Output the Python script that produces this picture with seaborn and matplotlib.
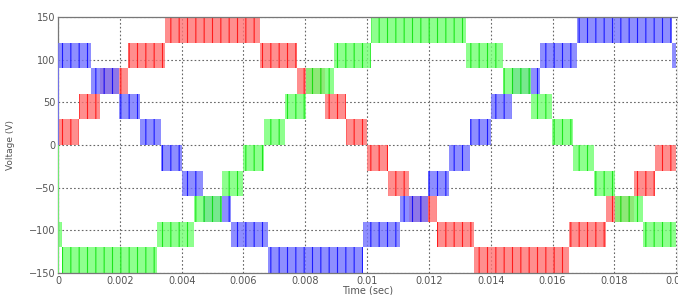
import matplotlib
matplotlib.use("Agg")
import matplotlib.pyplot as plt
import seaborn as sns
import pandas as pd

# Tiempos de cambio de nivel (s) y nivel inferior de cada banda (V)
red_edges = [0, 0.00068, 0.00136, 0.00227, 0.00346, 0.00654, 0.00773, 0.00864, 0.00932,
             0.01, 0.01068, 0.01136, 0.01227, 0.01346, 0.01654, 0.01773, 0.01864, 0.01932, 0.02]
red_lows = [0, 30, 60, 90, 120, 90, 60, 30, 0, -30, -60, -90, -120, -150, -120, -90, -60, -30]

blue_edges = [0, 0.00106, 0.00197, 0.00265, 0.00333, 0.00401, 0.00469, 0.00560, 0.00679, 0.00987,
              0.01106, 0.01197, 0.01265, 0.01333, 0.01401, 0.01469, 0.01560, 0.01679, 0.01987, 0.02]
blue_lows = [90, 60, 30, 0, -30, -60, -90, -120, -150, -120, -90, -60, -30, 0, 30, 60, 90, 120, 90]

green_edges = [0, 0.00013, 0.00321, 0.00440, 0.00531, 0.00599, 0.00667, 0.00735, 0.00803, 0.00894,
               0.01013, 0.01321, 0.01440, 0.01531, 0.01599, 0.01667, 0.01735, 0.01803, 0.01894, 0.02]
green_lows = [-120, -150, -120, -90, -60, -30, 0, 30, 60, 90, 120, 90, 60, 30, 0, -30, -60, -90, -120]

step = 30  # altura de cada banda
start_values = {"red": 0, "blue": 120, "green": -150}

x_ticks = [0, 0.002, 0.004, 0.006, 0.008, 0.01, 0.012, 0.014, 0.016, 0.018, 0.02]
x_labels = ["0", "0.002", "0.004", "0.006", "0.008", "0.01", "0.012", "0.014", "0.016", "0.018", "0.02"]
y_ticks = [-150, -100, -50, 0, 50, 100, 150]

rows = []
for phase, edges, lows in [("red", red_edges, red_lows),
                           ("blue", blue_edges, blue_lows),
                           ("green", green_edges, green_lows)]:
    for i, low in enumerate(lows):
        rows.append({"fase": phase, "t0": edges[i], "t1": edges[i + 1], "low": low})
df = pd.DataFrame(rows)

sns.set_theme(style="white")
plt.rcParams["font.family"] = ["DejaVu Sans"]
plt.rcParams["hatch.linewidth"] = 0.8

colors = {"red": ("#ff7272", "#ff0000"),
          "blue": ("#7272ff", "#0000ff"),
          "green": ("#72ff72", "#00e000")}

fig = plt.figure(figsize=(6.78, 2.95), dpi=100)
ax = fig.add_axes([58 / 678, 1 - 273 / 295, 620 / 678, (273 - 17) / 295])

for phase in ["red", "blue", "green"]:
    d = df[df["fase"] == phase]
    light, dark = colors[phase]
    ax.bar(d["t0"], step, width=d["t1"] - d["t0"], bottom=d["low"], align="edge",
           color=light, alpha=0.8, edgecolor=dark, linewidth=0, hatch="||", zorder=2)
    ax.vlines(0, 0, start_values[phase], color=light, lw=1.2, zorder=3)

ax.set_xlim(0, 0.02006)
ax.set_ylim(-150, 150)
ax.set_xticks(x_ticks)
ax.set_xticklabels(x_labels)
ax.set_yticks(y_ticks)
ax.grid(True, color="#666666", linestyle=(0, (1.5, 2.0)), linewidth=0.8, zorder=1)
ax.set_axisbelow(True)
ax.tick_params(direction="in", length=3, width=0.6, colors="#888888",
               labelcolor="#555555", labelsize=7, pad=2)
for s in ax.spines.values():
    s.set_color("#777777")
    s.set_linewidth(0.9)

ax.set_xlabel("Time (sec)", fontsize=7, color="#555555", labelpad=0)
ax.set_ylabel("Voltage (V)", fontsize=6.5, color="#555555", labelpad=10)

fig.savefig("out.png", dpi=100)
